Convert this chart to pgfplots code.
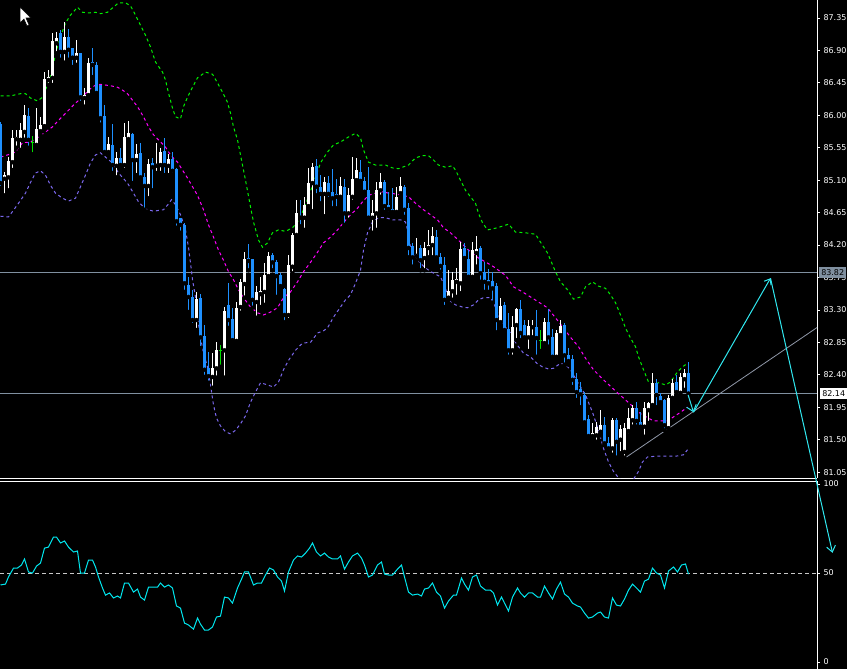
\documentclass[border=0pt]{standalone}
\usepackage{pgfplots}
\pgfplotsset{compat=1.18}
\usepackage{pgfplotstable}
\usepackage{fontspec}
\setmainfont{DejaVu Sans}
\usetikzlibrary{arrows.meta}
\definecolor{bearblue}{HTML}{1E90FF}
\definecolor{bullwhite}{HTML}{FFFFFF}
\definecolor{dojigreen}{HTML}{00E000}
\definecolor{bbup}{HTML}{00F000}
\definecolor{bbmid}{HTML}{FF00FF}
\definecolor{bblow}{HTML}{7B68EE}
\definecolor{rsicol}{HTML}{00E8F0}
\definecolor{arrowcol}{HTML}{30E8F0}
\definecolor{hline}{HTML}{8090A0}
\definecolor{tline}{HTML}{9098A8}
\definecolor{lvl}{HTML}{C8C8C8}

\pgfplotstableread{
i o h l c
0 85.88 85.91 84.99 85.06
1 85.12 85.21 84.89 85.17
2 85.14 85.42 84.96 85.37
3 85.35 85.80 85.24 85.69
4 85.67 85.80 85.55 85.70
5 85.66 85.89 85.52 85.80
6 85.77 86.14 85.66 86.00
7 85.99 86.10 85.55 85.66
8 85.62 85.71 85.46 85.62
9 85.59 86.10 85.55 85.81
10 85.78 85.98 85.73 85.87
11 85.85 86.60 85.80 86.50
12 86.49 86.63 86.42 86.53
13 86.52 87.14 86.42 87.03
14 87.00 87.16 86.86 87.07
15 87.14 87.18 86.77 86.88
16 86.88 87.29 86.73 87.09
17 87.09 87.20 86.77 86.91
18 86.93 86.93 86.67 86.80
19 86.80 87.05 86.70 86.86
20 86.86 86.86 86.17 86.25
21 86.24 86.38 86.12 86.28
22 86.28 86.80 86.24 86.73
23 86.74 86.93 86.53 86.70
24 86.70 86.74 86.28 86.31
25 86.42 86.42 85.87 85.96
26 85.99 86.14 85.48 85.49
27 85.49 85.70 85.48 85.60
28 85.59 85.88 85.20 85.31
29 85.30 85.49 85.14 85.41
30 85.41 85.55 85.27 85.31
31 85.31 85.89 85.24 85.70
32 85.67 85.92 85.63 85.75
33 85.74 85.75 85.06 85.38
34 85.38 85.60 85.17 85.46
35 85.48 85.62 85.12 85.14
36 85.14 85.20 84.69 85.02
37 85.02 85.39 84.85 85.32
38 85.34 85.41 84.96 85.28
39 85.30 85.62 85.20 85.32
40 85.31 85.55 85.20 85.49
41 85.50 85.69 85.17 85.31
42 85.30 85.46 85.17 85.39
43 85.39 85.49 85.17 85.23
44 85.25 85.27 84.44 84.53
45 84.58 84.58 84.37 84.48
46 84.48 84.51 83.55 83.67
47 83.65 83.76 83.27 83.48
48 83.48 83.58 83.09 83.16
49 83.16 83.55 83.02 83.45
50 83.47 83.52 82.77 82.92
51 82.94 83.09 82.37 82.47
52 82.49 82.72 82.29 82.38
53 82.37 82.70 82.22 82.49
54 82.49 82.85 82.36 82.74
55 82.74 82.81 82.51 82.74
56 82.74 83.34 82.36 83.28
57 83.37 83.67 83.05 83.16
58 83.17 83.33 82.85 82.88
59 82.87 83.41 82.84 83.33
60 83.34 83.73 83.26 83.69
61 83.66 84.10 83.47 84.01
62 84.02 84.21 83.85 83.98
63 84.01 84.01 83.33 83.44
64 83.41 83.63 83.19 83.55
65 83.52 83.76 83.34 83.56
66 83.55 83.95 83.37 83.78
67 83.77 84.10 83.74 84.05
68 84.06 84.09 83.85 83.96
69 83.96 83.99 83.48 83.77
70 83.78 83.81 83.58 83.63
71 83.59 83.60 83.13 83.23
72 83.23 84.06 83.16 83.92
73 83.90 84.37 83.81 84.34
74 84.34 84.83 84.31 84.64
75 84.60 84.83 84.46 84.58
76 84.58 84.87 84.41 84.76
77 84.74 85.27 84.69 85.06
78 85.06 85.34 84.67 85.28
79 85.30 85.39 84.89 85.01
80 85.01 85.17 84.78 84.91
81 84.91 85.14 84.60 85.07
82 85.06 85.16 84.84 84.91
83 84.94 85.26 84.71 84.85
84 84.91 85.12 84.71 84.87
85 84.87 85.14 84.83 85.02
86 85.01 85.12 84.48 84.64
87 84.64 84.99 84.55 84.89
88 84.87 85.42 84.80 85.12
89 85.10 85.41 85.06 85.24
90 85.21 85.38 85.06 85.09
91 85.09 85.14 84.92 84.94
92 84.96 85.28 84.52 84.58
93 84.58 84.83 84.37 84.64
94 84.64 85.07 84.41 84.96
95 84.96 85.20 84.87 85.07
96 85.07 85.10 84.66 84.74
97 84.76 84.94 84.64 84.70
98 84.70 84.99 84.64 84.66
99 84.66 85.01 84.64 84.87
100 84.92 85.14 84.87 85.02
101 85.01 85.03 84.59 84.69
102 84.71 84.78 84.03 84.16
103 84.19 84.23 83.90 84.03
104 84.05 84.30 83.99 84.08
105 84.16 84.20 83.85 83.99
106 84.02 84.24 83.85 84.16
107 84.16 84.41 84.03 84.20
108 84.20 84.45 84.03 84.33
109 84.31 84.41 83.99 84.03
110 84.03 84.09 83.83 83.91
111 83.92 84.03 83.34 83.44
112 83.47 83.85 83.44 83.56
113 83.56 83.83 83.44 83.71
114 83.69 83.88 83.48 83.73
115 83.67 84.24 83.53 84.15
116 84.16 84.23 83.96 84.02
117 84.01 84.13 83.71 83.76
118 83.76 84.24 83.74 84.13
119 84.09 84.33 83.90 84.15
120 84.16 84.19 83.69 83.81
121 83.83 83.96 83.55 83.69
122 83.71 83.87 83.55 83.67
123 83.70 83.83 83.40 83.60
124 83.63 83.67 82.99 83.16
125 83.13 83.47 83.12 83.35
126 83.37 83.41 82.98 83.02
127 83.04 83.26 82.65 82.74
128 82.74 83.22 82.65 83.06
129 83.09 83.33 82.88 83.31
130 83.31 83.44 82.88 82.98
131 83.09 83.16 82.91 82.92
132 82.92 83.16 82.73 83.08
133 83.06 83.16 82.92 83.08
134 83.06 83.30 82.65 82.91
135 82.88 83.02 82.73 82.88
136 82.84 83.19 82.79 83.13
137 83.13 83.31 82.79 82.92
138 82.92 83.04 82.61 82.65
139 82.65 83.02 82.63 82.98
140 82.95 83.16 82.92 83.08
141 83.09 83.12 82.54 82.67
142 82.67 82.77 82.54 82.59
143 82.62 82.67 82.23 82.33
144 82.34 82.42 82.05 82.16
145 82.20 82.30 81.95 82.13
146 82.12 82.16 81.70 81.74
147 81.79 81.84 81.50 81.55
148 81.55 81.73 81.50 81.59
149 81.56 81.74 81.47 81.68
150 81.61 81.91 81.56 81.70
151 81.70 81.81 81.43 81.45
152 81.45 81.54 81.33 81.38
153 81.38 81.80 81.29 81.77
154 81.77 81.80 81.25 81.47
155 81.50 81.70 81.31 81.65
156 81.33 81.73 81.25 81.66
157 81.62 81.94 81.56 81.80
158 81.77 81.98 81.68 81.94
159 81.94 82.02 81.68 81.76
160 81.74 81.88 81.63 81.68
161 81.68 82.02 81.54 81.94
162 81.91 82.02 81.73 82.01
163 81.98 82.42 81.95 82.29
164 82.29 82.34 81.95 82.12
165 82.11 82.15 81.98 82.02
166 82.05 82.06 81.63 81.70
167 81.66 82.12 81.63 82.08
168 82.08 82.34 82.05 82.29
169 82.30 82.40 82.15 82.16
170 82.15 82.42 82.12 82.37
171 82.34 82.48 82.19 82.42
172 82.42 82.58 82.07 82.14
}\candles

\pgfplotstableread{
x y
0 86.27
2.5 86.27
5 86.30
6.25 86.30
7.5 86.24
9.25 86.20
10.5 86.25
11.75 86.42
13 86.63
13.75 86.86
15 87.09
16.25 87.28
17.5 87.39
19.25 87.50
20.5 87.43
22 87.42
23.75 87.43
25 87.41
26.75 87.43
28 87.49
29.5 87.56
31.25 87.56
32.5 87.52
33.75 87.39
35 87.25
36.25 87.11
37.5 86.95
38.75 86.74
40.5 86.60
41.25 86.49
42 86.31
43 86.10
43.75 85.98
45 85.95
45.75 86.12
46.75 86.25
48 86.39
49.25 86.52
51.25 86.60
53 86.57
54.25 86.45
55.5 86.32
56.75 86.18
57.5 86.03
58.25 85.84
59.25 85.66
60 85.45
61.25 85.10
62.5 84.73
63.25 84.52
64.5 84.27
65.5 84.17
66.75 84.23
68 84.37
69.5 84.41
71.25 84.39
73 84.44
74.25 84.52
75.5 84.66
77 84.87
78.75 85.14
80 85.34
81.75 85.49
83.25 85.59
85 85.63
87 85.70
88.75 85.75
90 85.69
90.75 85.52
92 85.35
93.75 85.31
96.25 85.31
98 85.27
99.5 85.26
102 85.31
103.75 85.41
105.5 85.44
107 85.44
108.25 85.38
109.5 85.31
111.25 85.28
113 85.30
113.75 85.24
115 85.10
116.25 84.96
117.5 84.87
118.75 84.78
119.5 84.64
120.5 84.51
121.75 84.41
124.25 84.44
127 84.49
128.75 84.38
131.25 84.37
133.75 84.35
135 84.24
136.75 84.09
138.75 83.83
140 83.69
141.75 83.58
143.25 83.45
145 83.48
146.25 83.62
148 83.69
149.5 83.63
151.25 83.60
152.5 83.51
153.75 83.40
155 83.23
156.25 83.05
157.5 82.91
158.75 82.79
159.5 82.65
160.75 82.47
162 82.30
163.25 82.26
164.5 82.29
166.25 82.26
167.5 82.30
169.25 82.44
170.5 82.51
171.75 82.56
}\bbupper

\pgfplotstableread{
x y
0 85.42
1.75 85.45
3.75 85.49
5.5 85.62
7.5 85.63
9.5 85.70
11.25 85.77
13 85.84
14.5 85.93
15.75 86.00
17 86.07
18.75 86.17
20.5 86.25
22 86.35
23.75 86.42
25 86.43
27.5 86.41
29.25 86.39
30.5 86.35
31.75 86.30
33 86.21
34.25 86.12
35.75 85.98
37 85.84
38.25 85.73
39.5 85.66
41.25 85.56
42.5 85.45
44.25 85.35
45.5 85.24
46.75 85.13
48 85.01
49.25 84.89
50.75 84.69
52 84.48
53.25 84.31
54.5 84.13
55.75 83.99
57 83.83
58.25 83.72
59.5 83.58
60.75 83.47
62.5 83.34
64.25 83.26
65.75 83.23
67.5 83.27
69.25 83.33
70.75 83.47
72.5 83.55
74.25 83.69
75.75 83.83
77.5 83.96
79.25 84.10
80.75 84.23
82.5 84.31
84.25 84.41
85.75 84.51
87.5 84.62
89.25 84.71
90.5 84.80
92 84.89
93.75 84.92
95.5 84.94
97 84.92
98.75 84.91
100.5 84.89
102 84.87
103.75 84.78
105.75 84.69
107.5 84.62
109.25 84.55
110.75 84.44
112.5 84.37
114.25 84.28
115.75 84.20
117 84.13
119.5 84.02
121.75 83.95
123.25 83.90
124.5 83.85
126.25 83.78
128.25 83.62
130.5 83.55
132.5 83.48
134.5 83.41
136.75 83.33
138.75 83.19
140.75 83.05
142.5 82.92
144.5 82.79
146.25 82.63
148.25 82.47
150.75 82.33
154.25 82.15
157.5 81.99
160 81.86
163.25 81.76
166.75 81.76
170 81.88
171.75 81.95
}\bbmiddle

\pgfplotstableread{
x y
0 84.60
2 84.59
4.25 84.76
6.25 84.92
7.5 85.07
8.75 85.20
10 85.23
11.25 85.17
12.5 85.03
13.75 84.92
15.5 84.85
17 84.81
18.75 84.85
20 85.01
21.25 85.17
22.5 85.34
23.75 85.45
25 85.48
26.25 85.42
28 85.34
29.5 85.20
31.75 85.06
33.25 84.92
34.5 84.80
36.25 84.70
38.25 84.67
40.75 84.69
42 84.77
42.75 84.83
43.75 84.76
45 84.62
46.25 84.41
47 84.17
47.5 83.95
48 83.72
48.75 83.48
49.25 83.20
50 82.92
50.75 82.70
51.75 82.51
52.5 82.26
53.25 81.98
54 81.80
55 81.69
56.25 81.61
57.5 81.58
58.75 81.63
60 81.72
61.25 81.83
62.5 82.02
63.75 82.16
65 82.29
66.75 82.26
68.25 82.23
69.5 82.30
70.75 82.47
72 82.60
73.75 82.74
75.5 82.84
77.5 82.85
79.25 82.98
80.75 83.01
81.75 83.05
83.25 83.20
85 83.34
86.25 83.44
87.5 83.51
88.75 83.67
90 83.85
90.75 84.13
91.75 84.37
93 84.52
94.5 84.58
96.25 84.58
98 84.55
100 84.55
101.25 84.52
101.75 84.41
102.5 84.17
104.25 83.99
106.25 83.88
108.25 83.81
110 83.76
111.25 83.60
112 83.44
113.75 83.37
115.5 83.34
116.75 83.33
118.25 83.37
119.5 83.44
120.75 83.47
122.5 83.47
123.25 83.40
124.25 83.27
125 83.16
126.25 83.06
127.5 82.98
128.75 82.85
129.5 82.79
130.75 82.70
132.5 82.65
134.25 82.55
135.5 82.51
137 82.48
138.25 82.49
140 82.56
141.25 82.54
142.5 82.47
144.25 82.30
146.25 82.12
148 81.88
149.5 81.63
150.75 81.38
152 81.19
153.25 81.06
154.5 80.97
156.25 80.88
158 80.93
159.5 81.06
160.5 81.19
161.75 81.26
163.75 81.27
166.25 81.27
168.75 81.27
170.75 81.29
171.75 81.36
}\bblower

\pgfplotstableread{
x v
0 43.3
1.25 43.8
2 47.8
3.25 52.8
4.25 52.8
5.25 54.5
6 57.9
7 50.6
8 50.0
9 53.9
10 55.6
11 64.0
12 64.6
13.25 70.2
14 70.2
15 66.9
16 68.0
17 64.6
18.25 61.8
19.25 62.4
20 50.0
21 50.0
22 57.3
23 57.3
23.75 53.4
24.5 47.8
25.5 41.6
26.25 37.6
27.25 38.8
28.25 36.0
29.25 37.1
30 36.0
31 44.4
32 44.4
33.25 39.3
34.25 41.0
35 36.5
36 34.8
37 42.1
38.25 42.1
39.25 42.1
40 44.4
41 42.1
42 43.3
43 41.6
44 31.5
45 30.3
46 21.9
47 20.8
48.25 18.5
49.25 24.7
50 21.3
51 18.0
52 18.0
53 19.7
54 25.3
55 25.8
56 36.5
57 36.0
58 33.1
59.25 41.6
60.25 46.6
61 50.6
62 50.6
63.25 43.3
64.25 44.4
65.25 44.4
66.25 48.9
67.25 52.8
68.25 51.7
69.25 47.8
70.25 45.5
71 39.9
72 50.6
73.25 57.3
74.25 59.6
75.25 59.0
76.25 61.2
77.25 64.0
78 66.9
79 61.8
80 59.6
81 61.2
82 59.0
83 57.9
84.25 57.9
85 59.6
86 52.2
87 56.2
88 59.6
89.25 61.2
90.25 58.4
91 54.5
92 47.8
93 48.9
94.25 54.5
95.25 56.2
96 49.4
97 48.9
98 48.9
99.25 52.2
100.25 54.5
101 47.8
102 39.3
103 37.6
104.25 38.2
105.25 37.1
106 41.0
107 41.6
108 44.4
109 39.3
110 37.1
111 30.3
112 34.3
113.25 37.6
114 37.6
115.25 47.2
116 43.8
117 40.4
118 47.8
119 48.9
120 42.7
121.25 40.4
122.5 40.4
123.25 38.8
124.25 32.0
125.25 36.5
126 33.1
127 28.7
128 36.5
129.25 41.6
130 38.8
131 36.5
132 38.8
133 38.8
134.25 36.5
135 36.5
136 42.7
137 38.8
138 35.4
139 41.0
140 44.9
141 38.2
142 36.5
143 33.1
144.25 31.5
145 30.9
146 27.5
147 24.7
148 25.3
149.25 27.5
150 28.1
151 25.3
152 24.7
153 36.0
154 32.0
155 31.5
156 35.4
157 40.4
158 43.8
159 41.6
160 39.3
161 45.5
162 46.6
163 52.8
164 50.0
165 48.9
166 41.6
167 51.1
168.25 53.4
169.25 50.6
170.25 54.5
171.25 55.1
172 49.4
}\rsi

\pgfplotsset{
  mtaxis/.style={
    scale only axis, width=817pt,
    xmin=-0.125, xmax=204.125,
    xtick=\empty,
    axis line style={white, line width=1pt},
    tick style={white, line width=0.8pt},
    tick align=outside, major tick length=3pt,
    yticklabel style={font=\fontsize{8}{9}\selectfont, text=white},
  },
  candlewick/.style={forget plot, only marks, mark=none,
    error bars/y dir=plus, error bars/y explicit, error bars/error mark=none,
    error bars/error bar style={draw=#1, line width=1pt}},
  candlebody/.style={forget plot, only marks, mark=none,
    error bars/y dir=plus, error bars/y explicit, error bars/error mark=none,
    error bars/error bar style={draw=#1, line width=3pt}},
}

\begin{document}
\begin{tikzpicture}[x=1pt,y=1pt]
\fill[black] (0pt,0pt) rectangle (847pt,-669pt);
\useasboundingbox (0pt,0pt) rectangle (847pt,-669pt);

% ---------------- price panel ----------------
\begin{axis}[mtaxis,
  at={(0pt,0pt)}, anchor=north west, height=478pt,
  ymin=80.968, ymax=87.60,
  axis x line*=bottom, axis y line*=right,
  ytick={81.05,81.50,81.95,82.40,82.85,83.30,83.75,84.20,84.65,85.10,85.55,86.00,86.45,86.90,87.35},
  yticklabels={81.05,81.50,81.95,82.40,82.85,83.30,83.75,84.20,84.65,85.10,85.55,86.00,86.45,86.90,87.35},
]
% horizontal price lines
\addplot[hline, line width=1pt, forget plot] coordinates {(-0.125,83.82) (204.125,83.82)};
\addplot[hline, line width=1pt, forget plot] coordinates {(-0.125,82.14) (204.125,82.14)};
% trend line
\addplot[tline, line width=0.8pt, forget plot] coordinates {(156.25,81.25) (204.25,83.06)};
% Bollinger bands
\addplot[bbup, line width=1pt, dash pattern=on 3pt off 3pt, forget plot] table[x=x,y=y] {\bbupper};
\addplot[bbmid, line width=1pt, dash pattern=on 3pt off 3pt, forget plot] table[x=x,y=y] {\bbmiddle};
\addplot[bblow, line width=1pt, dash pattern=on 3pt off 3pt, forget plot] table[x=x,y=y] {\bblower};
% bullish candles
\addplot[x filter/.expression={\thisrow{c}>\thisrow{o} ? x : nan}, candlewick=bullwhite]
  table[x=i, y=l, y error expr=\thisrow{h}-\thisrow{l}] {\candles};
\addplot[x filter/.expression={\thisrow{c}>\thisrow{o} ? x : nan}, candlebody=bullwhite]
  table[x=i, y=o, y error expr=\thisrow{c}-\thisrow{o}] {\candles};
% bearish candles
\addplot[x filter/.expression={\thisrow{c}<\thisrow{o} ? x : nan}, candlewick=bearblue]
  table[x=i, y=l, y error expr=\thisrow{h}-\thisrow{l}] {\candles};
\addplot[x filter/.expression={\thisrow{c}<\thisrow{o} ? x : nan}, candlebody=bearblue]
  table[x=i, y=c, y error expr=\thisrow{o}-\thisrow{c}] {\candles};
% doji candles
\addplot[x filter/.expression={\thisrow{c}==\thisrow{o} ? x : nan}, candlewick=dojigreen]
  table[x=i, y=l, y error expr=\thisrow{h}-\thisrow{l}] {\candles};
\addplot[forget plot, only marks, mark=-, mark size=1.5pt, mark options={draw=dojigreen, line width=1pt},
  x filter/.expression={\thisrow{c}==\thisrow{o} ? x : nan}]
  table[x=i, y=o] {\candles};
\end{axis}

% ---------------- RSI panel ----------------
\begin{axis}[mtaxis,
  at={(0pt,-481pt)}, anchor=north west, height=188pt,
  ymin=-3.9, ymax=101.7,
  axis x line*=top, axis y line*=right,
  ytick={0,50,100}, yticklabels={0,50,100},
]
\addplot[lvl, line width=0.8pt, dash pattern=on 4pt off 3pt, forget plot] coordinates {(-0.125,50) (204.125,50)};
\addplot[rsicol, line width=1pt, forget plot] table[x=x,y=v] {\rsi};
\end{axis}

% ---------------- overlay (arrows, price tags) ----------------
\begin{axis}[mtaxis,
  at={(0pt,0pt)}, anchor=north west, height=478pt,
  ymin=80.968, ymax=87.60, axis lines=none, clip=false,
]
\addplot[arrowcol, line width=1pt, -{Straight Barb[length=6pt,width=10pt]}, forget plot]
  coordinates {(171.9,82.12) (173.25,81.88)};
\addplot[arrowcol, line width=1pt, -{Straight Barb[length=5pt,width=8pt]}, forget plot]
  coordinates {(173.25,81.88) (192.5,83.74)};
\addplot[arrowcol, line width=1pt, -{Straight Barb[length=6pt,width=9pt]}, forget plot]
  coordinates {(192.5,83.74) (208,79.93)};
\node[anchor=west, fill=hline, text=black, inner sep=0pt, minimum width=27pt, minimum height=11pt,
  font=\fontsize{8}{9}\selectfont] at (axis cs:204.625,83.82) {83.82};
\node[anchor=west, fill=white, text=black, inner sep=0pt, minimum width=28pt, minimum height=11pt,
  font=\fontsize{8}{9}\selectfont] at (axis cs:204.75,82.14) {82.14};
\end{axis}

% mouse cursor
\filldraw[fill=white, draw=black, line width=0.5pt]
  (20pt,-7pt) -- (20pt,-23pt) -- (24pt,-19pt) -- (27pt,-26pt) -- (29pt,-25pt) -- (26pt,-18pt) -- (31pt,-18pt) -- cycle;
\end{tikzpicture}
\end{document}
